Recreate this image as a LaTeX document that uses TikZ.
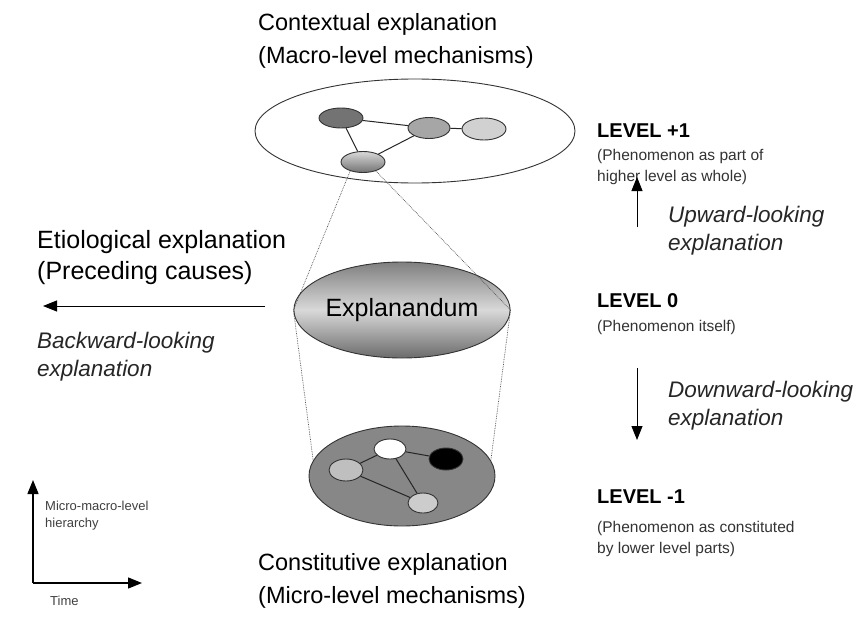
\documentclass[tikz,border=0pt]{standalone}
\usepackage{fontspec}
\setmainfont{Liberation Sans}
\usetikzlibrary{shapes.geometric,arrows.meta}

\begin{document}
\begin{tikzpicture}[x=1pt, y=-1pt,
  blob/.style={ellipse, draw=black!80, line width=0.9pt, inner sep=0pt},
  caption/.style={anchor=west, inner sep=0pt, align=left, font=\fontsize{23.5}{33}\selectfont},
  levelname/.style={anchor=west, inner sep=0pt, font=\fontsize{20}{24}\selectfont\bfseries},
  levelnote/.style={anchor=west, inner sep=0pt, align=left, text=black!80, font=\fontsize{15.5}{21}\selectfont},
  slanted/.style={anchor=west, inner sep=0pt, align=left, text=black!85, font=\fontsize{22.5}{28}\selectfont\itshape},
  axisnote/.style={anchor=west, inner sep=0pt, align=left, text=black!75, font=\fontsize{13}{17}\selectfont},
  zoomline/.style={densely dotted, black!70, line width=0.7pt},
  link/.style={line width=1pt, black!85},
  bigarrow/.style={-{Triangle[length=14pt, width=11pt]}, line width=1pt}]
\useasboundingbox [fill=white] (0,0) rectangle (859,618);
\node (context) at (258, 41) [caption] {Contextual explanation\\(Macro-level mechanisms)};
\node (etiol) at (37, 258) [caption, font=\fontsize{25}{31}\selectfont] {Etiological explanation\\(Preceding causes)};
\node (backward) at (37, 357) [slanted] {Backward-looking\\explanation};
\node (constit) at (258, 581) [caption] {Constitutive explanation\\(Micro-level mechanisms)};
\node (lvlup) at (597, 131) [levelname] {LEVEL +1};
\node (lvlupnote) at (597, 167) [levelnote] {(Phenomenon as part of\\higher level as whole)};
\node (upward) at (668, 231) [slanted] {Upward-looking\\explanation};
\node (lvlzero) at (597, 301) [levelname] {LEVEL 0};
\node (lvlzeronote) at (597, 327) [levelnote] {(Phenomenon itself)};
\node (downward) at (668, 406) [slanted] {Downward-looking\\explanation};
\node (lvldown) at (597, 497) [levelname] {LEVEL -1};
\node (lvldownnote) at (597, 539) [levelnote] {(Phenomenon as constituted\\by lower level parts)};
\node (macro) at (415, 131) [blob, minimum width=320pt, minimum height=104pt, fill=white] {};
\node (mdark) at (341, 118) [blob, minimum width=44pt, minimum height=20pt, fill=black!55] {};
\node (mmid) at (429, 128) [blob, minimum width=42pt, minimum height=21pt, fill=black!35] {};
\node (mlight) at (484, 129) [blob, minimum width=44pt, minimum height=22pt, fill=black!18] {};
\node (mfocus) at (363, 162) [blob, minimum width=44pt, minimum height=21pt, top color=black!15, bottom color=black!55] {};
\node (expl) at (402, 310) [blob, minimum width=208pt, minimum height=96pt, top color=black!50, bottom color=black!58, middle color=black!15, font=\fontsize{25}{30}\selectfont] {Explanandum};
\node (micro) at (402, 476) [blob, minimum width=186pt, minimum height=100pt, fill=black!47] {};
\node (cwhite) at (390, 449) [blob, minimum width=32pt, minimum height=20pt, fill=white] {};
\node (cblack) at (446, 459) [blob, minimum width=34pt, minimum height=22pt, fill=black] {};
\node (cleft) at (346, 470) [blob, minimum width=34pt, minimum height=22pt, fill=black!25] {};
\node (cbottom) at (423, 503) [blob, minimum width=30pt, minimum height=20pt, fill=black!20] {};
\draw [link] (mdark) edge (mmid) (mmid) edge (mlight) (mdark) edge (mfocus) (mfocus) edge (mmid);
\draw [link] (cwhite) edge (cblack) (cwhite) edge (cleft) (cwhite) edge (cbottom) (cleft) edge (cbottom);
\draw [zoomline] (mfocus.215) -- (expl.west) -- (micro.170);
\draw [zoomline] (mfocus.325) -- (expl.east) -- (micro.10);
\coordinate (backtail) at (265, 306);
\coordinate (backtip) at (43, 306);
\coordinate (uptail) at (637, 227);
\coordinate (uptip) at (637, 177);
\coordinate (downtail) at (637, 368);
\coordinate (downtip) at (637, 440);
\draw [bigarrow] (backtail) -- (backtip);
\draw [bigarrow] (uptail) -- (uptip);
\draw [bigarrow] (downtail) -- (downtip);
\coordinate (origin) at (33, 583);
\coordinate (hiertip) at (33, 480);
\coordinate (timetip) at (142, 583);
\draw [bigarrow, line width=1.4pt] (origin) -- (hiertip);
\draw [bigarrow, line width=1.4pt] (origin) -- (timetip);
\node (hier) at (45, 516) [axisnote] {Micro-macro-level\\hierarchy};
\node (time) at (50, 601) [axisnote] {Time};
\end{tikzpicture}
\end{document}
